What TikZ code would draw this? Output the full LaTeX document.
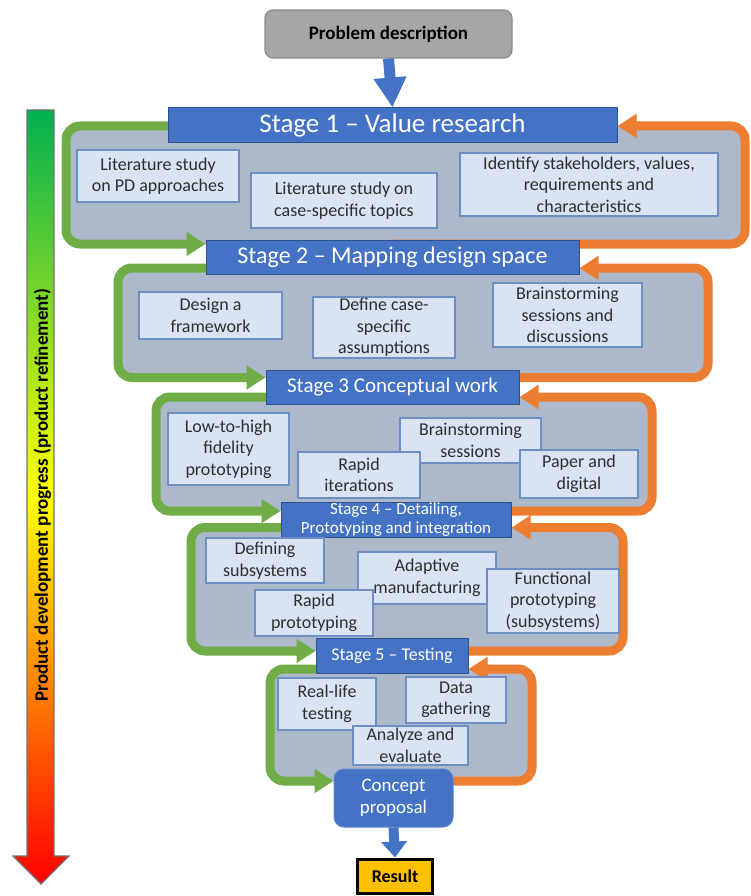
\documentclass[tikz,border=0pt]{standalone}
\usepackage{fontspec}
\setmainfont{Carlito}
\usetikzlibrary{arrows.meta}
\definecolor{hblue}{HTML}{4472C4}
\definecolor{hborder}{HTML}{2F528F}
\definecolor{panelg}{HTML}{ADB9CA}
\definecolor{subfill}{HTML}{DAE3F3}
\definecolor{subline}{HTML}{6D8FC4}
\definecolor{lgreen}{HTML}{70AD47}
\definecolor{lorange}{HTML}{ED7D31}
\definecolor{pgray}{HTML}{A6A6A6}
\definecolor{pgrayline}{HTML}{8A8A8A}
\definecolor{gold}{HTML}{FFC000}
\definecolor{agreen}{HTML}{00B050}
\definecolor{ayellow}{HTML}{FFFF00}
\definecolor{ared}{HTML}{FF0000}
\definecolor{cborder}{HTML}{5A85CF}
\pgfdeclarelayer{bg}
\pgfdeclarelayer{loops}
\pgfsetlayers{bg,loops,main}
\begin{document}
\begin{tikzpicture}[x=1pt,y=-1pt,
  header/.style={draw=hborder, line width=1pt, fill=hblue, text=white, inner sep=0pt, align=center},
  sub/.style={draw=subline, line width=1.2pt, fill=subfill, text=black!82, inner sep=0pt, align=center, font=\fontsize{18}{21.5}\selectfont},
  panel/.style={fill=panelg, rounded corners=14pt},
  gloop/.style={draw=lgreen, line width=9pt, rounded corners=14pt, -{Triangle[length=19pt,width=23pt]}},
  oloop/.style={draw=lorange, line width=9pt, rounded corners=14pt, -{Triangle[length=19pt,width=23pt]}},
  bluearrow/.style={draw=hblue}]
\useasboundingbox (0,0) rectangle (750,896);

% ---------- top and bottom boxes
\node[draw=pgrayline, line width=1.2pt, fill=pgray, rounded corners=8pt, minimum width=247, minimum height=48, inner sep=0pt,
      font=\bfseries\fontsize{19}{22}\selectfont] (problem) at (388.5,34) {Problem description};
\node[draw=cborder, line width=1pt, fill=hblue, rounded corners=10pt, minimum width=119, minimum height=58, inner sep=0pt,
      text=white, align=center, font=\fontsize{19}{22}\selectfont] (concept) at (393.5,798) {Concept\\proposal};
\node[draw=black, line width=3pt, fill=gold, minimum width=75, minimum height=34, inner sep=0pt,
      font=\bfseries\fontsize{18}{21}\selectfont] (result) at (395,876) {Result};

% ---------- stage headers
\node[header, minimum width=449, minimum height=35, font=\fontsize{27}{30}\selectfont] (h1) at (392.5,125.5) {Stage 1 -- Value research};
\node[header, minimum width=373, minimum height=34, font=\fontsize{24}{27}\selectfont] (h2) at (392.5,257) {Stage 2 -- Mapping design space};
\node[header, minimum width=253, minimum height=34, font=\fontsize{21}{24}\selectfont] (h3) at (392.5,387) {Stage 3 Conceptual work};
\node[header, minimum width=230, minimum height=35, font=\fontsize{17}{19.5}\selectfont] (h4) at (396,519.5) {Stage 4 -- Detailing,\\Prototyping and integration};
\node[header, minimum width=152, minimum height=35, font=\fontsize{18}{21}\selectfont] (h5) at (392,655.5) {Stage 5 -- Testing};

% ---------- stage 1 items
\node[sub, minimum width=162, minimum height=52] (lit1) at (158,176) {Literature study\\on PD approaches};
\node[sub, minimum width=186, minimum height=55] (lit2) at (344,200.5) {Literature study on\\case-specific topics};
\node[sub, minimum width=258, minimum height=63] (ident) at (589,184.5) {Identify stakeholders, values,\\requirements and\\characteristics};

% ---------- stage 2 items
\node[sub, minimum width=143, minimum height=47] (design) at (210.5,315.5) {Design a\\framework};
\node[sub, minimum width=142, minimum height=61] (define) at (384,327.5) {Define case-\\specific\\assumptions};
\node[sub, minimum width=149, minimum height=64] (brain1) at (567.5,315) {Brainstorming\\sessions and\\discussions};

% ---------- stage 3 items
\node[sub, minimum width=121, minimum height=72] (lowhigh) at (228.5,449) {Low-to-high\\fidelity\\prototyping};
\node[sub, minimum width=141, minimum height=45] (brain2) at (470.5,440.5) {Brainstorming\\sessions};
\node[sub, minimum width=122, minimum height=46] (rapid1) at (359,475) {Rapid\\iterations};
\node[sub, minimum width=118, minimum height=48] (paper) at (579,474) {Paper and\\digital};

% ---------- stage 4 items
\node[sub, minimum width=118, minimum height=45] (defsub) at (265,560.5) {Defining\\subsystems};
\node[sub, minimum width=138, minimum height=52] (adaptive) at (427,578) {Adaptive\\manufacturing};
\node[sub, minimum width=118, minimum height=46] (rapid2) at (314,613) {Rapid\\prototyping};
\node[sub, minimum width=132, minimum height=64] (functional) at (553,601) {Functional\\prototyping\\(subsystems)};

% ---------- stage 5 items
\node[sub, minimum width=98, minimum height=52] (reallife) at (327,704) {Real-life\\testing};
\node[sub, minimum width=100, minimum height=46] (data) at (456,700) {Data\\gathering};
\node[sub, minimum width=115, minimum height=39] (analyze) at (410.5,745.5) {Analyze and\\evaluate};

% ---------- loop levels
\coordinate (T1) at (0,126);   \coordinate (B1) at (0,244);
\coordinate (T2) at (0,268);   \coordinate (B2) at (0,377.5);
\coordinate (T3) at (0,397);   \coordinate (B3) at (0,511);
\coordinate (T4) at (0,527.5); \coordinate (B4) at (0,651);
\coordinate (T5) at (0,669);   \coordinate (B5) at (0,781);

\begin{pgfonlayer}{bg}
  \fill[panel] (66,126) rectangle (745,244);
  \fill[panel] (118,268) rectangle (708,377.5);
  \fill[panel] (156,397) rectangle (652,511);
  \fill[panel] (191,527.5) rectangle (623,651);
  \fill[panel] (270,669) rectangle (532,781);
\end{pgfonlayer}

\begin{pgfonlayer}{loops}
  \draw[gloop] (h1 |- T1) -| (66,244) -- (h2.west |- B1);
  \draw[oloop] (h2 |- B1) -| (745,126) -- (h1.east |- T1);
  \draw[gloop] (h2 |- T2) -| (118,377.5) -- (h3.west |- B2);
  \draw[oloop] (h3 |- B2) -| (708,268) -- (h2.east |- T2);
  \draw[gloop] (h3 |- T3) -| (156,511) -- (h4.west |- B3);
  \draw[oloop] (h4 |- B3) -| (652,397) -- (h3.east |- T3);
  \draw[gloop] (h4 |- T4) -| (191,651) -- (h5.west |- B4);
  \draw[oloop] (h5 |- B4) -| (623,527.5) -- (h4.east |- T4);
  \draw[gloop] (h5 |- T5) -| (270,781) -- (concept.west |- B5);
  \draw[oloop] (concept |- B5) -| (532,669) -- (h5.east |- T5);
\end{pgfonlayer}

% ---------- blue arrows
\draw[bluearrow, line width=11pt, -{Triangle[length=30pt,width=31pt]}] (problem.south) -- (h1.north);
\draw[bluearrow, line width=10pt, -{Triangle[length=16pt,width=25pt]}] (concept.south) -- (result.north);

% ---------- progress arrow
\shadedraw[top color=agreen, bottom color=ared, middle color=ayellow, draw=black!55, line width=1.2pt]
  (27,110) -- (54,110) -- (54,856) -- (69,856) -- (41,884) -- (13,856) -- (27,856) -- cycle;
\node[rotate=90, inner sep=0pt, font=\bfseries\fontsize{19}{22}\selectfont] (prog) at (42.5,495) {Product development progress (product refinement)};
\end{tikzpicture}
\end{document}
